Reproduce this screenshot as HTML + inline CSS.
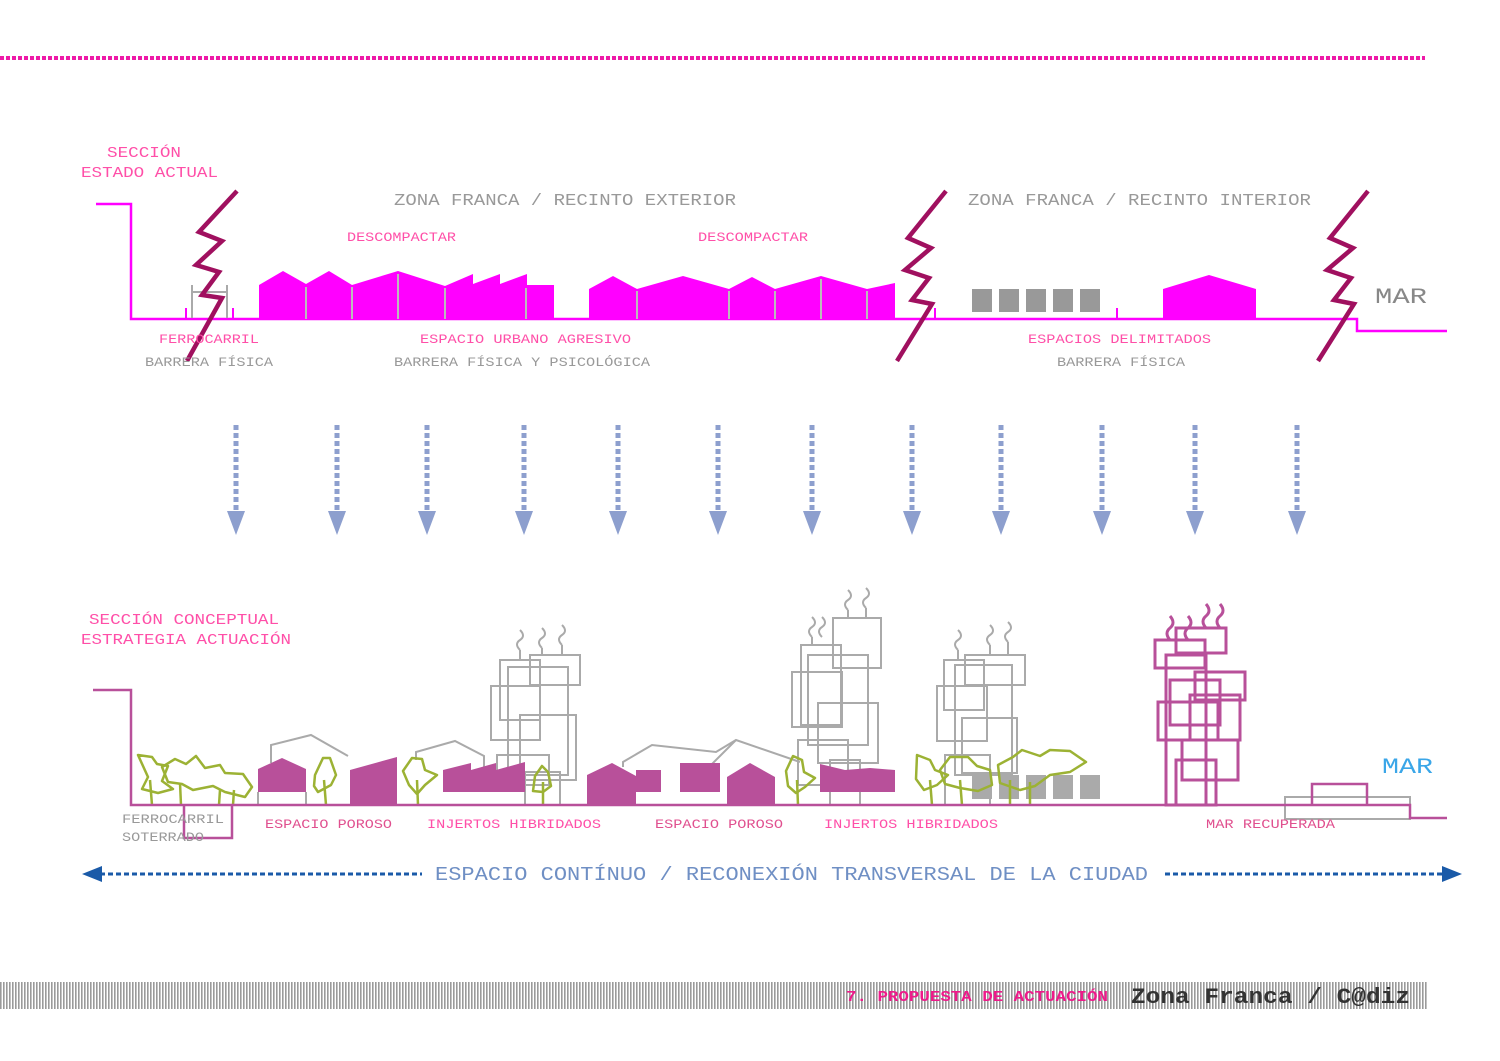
<!DOCTYPE html>
<html><head><meta charset="utf-8"><style>
html,body{margin:0;padding:0;background:#fff}
svg{display:block}
text{font-family:"Liberation Mono","DejaVu Sans Mono",monospace}
</style></head><body>
<svg width="1500" height="1061" viewBox="0 0 1500 1061" xmlns="http://www.w3.org/2000/svg">
<defs>
<pattern id="str" width="3" height="10" patternUnits="userSpaceOnUse"><rect width="3" height="10" fill="#fff"/><rect width="1.6" height="10" fill="#9a9a9a"/></pattern>
</defs>
<line x1="0" y1="58" x2="1425" y2="58" stroke="#ee1aa8" stroke-width="4" stroke-dasharray="4 2"/>

<text x="107" y="157" font-size="15" fill="#ff4fa8" textLength="74" lengthAdjust="spacingAndGlyphs">SECCIÓN</text>
<text x="81" y="177" font-size="15" fill="#ff4fa8" textLength="137" lengthAdjust="spacingAndGlyphs">ESTADO ACTUAL</text>
<text x="394" y="205" font-size="17" fill="#999" textLength="342" lengthAdjust="spacingAndGlyphs">ZONA FRANCA / RECINTO EXTERIOR</text>
<text x="968" y="205" font-size="17" fill="#999" textLength="343" lengthAdjust="spacingAndGlyphs">ZONA FRANCA / RECINTO INTERIOR</text>
<text x="347" y="241" font-size="13" fill="#ff4fa8" textLength="109" lengthAdjust="spacingAndGlyphs">DESCOMPACTAR</text>
<text x="698" y="241" font-size="13" fill="#ff4fa8" textLength="110" lengthAdjust="spacingAndGlyphs">DESCOMPACTAR</text>
<text x="1375" y="303" font-size="22" fill="#888" textLength="52" lengthAdjust="spacingAndGlyphs">MAR</text>

<polyline points="96,204 131,204 131,319 1357,319 1357,331 1447,331" fill="none" stroke="#ff00ff" stroke-width="2.5"/>
<g stroke="#aaa" stroke-width="2" fill="none"><line x1="192" y1="285" x2="192" y2="318"/><line x1="227" y1="285" x2="227" y2="318"/><line x1="192" y1="292" x2="227" y2="292"/></g>
<g stroke="#ff00ff" stroke-width="2"><line x1="186" y1="308" x2="186" y2="319"/><line x1="233" y1="308" x2="233" y2="319"/><line x1="935" y1="308" x2="935" y2="319"/><line x1="1117" y1="308" x2="1117" y2="319"/></g>
<polygon fill="#ff00ff" points="259,319 259,285 283,271 306,284 329,271 352,285 398,271 445,286 473,274 473,284 500,274 500,284 527,274 527,285 554,285 554,319"/>
<g stroke="#bbb" stroke-width="2"><line x1="306" y1="287" x2="306" y2="319"/><line x1="352" y1="287" x2="352" y2="319"/><line x1="398" y1="274" x2="398" y2="319"/><line x1="445" y1="288" x2="445" y2="319"/><line x1="526" y1="288" x2="526" y2="319"/></g>
<polygon fill="#ff00ff" points="589,319 589,289 613,276 637,289 683,276 729,289 752,277 775,289 821,276 867,289 895,283 895,319"/>
<g stroke="#bbb" stroke-width="2"><line x1="637" y1="291" x2="637" y2="319"/><line x1="729" y1="291" x2="729" y2="319"/><line x1="775" y1="291" x2="775" y2="319"/><line x1="821" y1="279" x2="821" y2="319"/><line x1="867" y1="291" x2="867" y2="319"/></g>
<g fill="#999"><rect x="972" y="289" width="20" height="23"/><rect x="999" y="289" width="20" height="23"/><rect x="1026" y="289" width="20" height="23"/><rect x="1053" y="289" width="20" height="23"/><rect x="1080" y="289" width="20" height="23"/></g>
<polygon fill="#ff00ff" points="1163,319 1163,289 1209,275 1256,289 1256,319"/>
<g fill="none" stroke="#a0105f" stroke-width="4.5" stroke-linejoin="miter">
<polyline points="237,191 199,232 222,241 196,265 219,272 202,295 222,298 187,361"/>
<polyline points="946,191 908,238 931,248 905,270 929,278 912,300 932,304 897,361"/>
<polyline points="1368,191 1330,238 1353,248 1327,270 1351,278 1334,300 1354,304 1318,361"/>
</g>
<text x="159" y="343" font-size="13" fill="#ff4fa8" textLength="100" lengthAdjust="spacingAndGlyphs">FERROCARRIL</text>
<text x="145" y="366" font-size="13" fill="#999" textLength="128" lengthAdjust="spacingAndGlyphs">BARRERA FÍSICA</text>
<text x="420" y="343" font-size="13" fill="#ff4fa8" textLength="211" lengthAdjust="spacingAndGlyphs">ESPACIO URBANO AGRESIVO</text>
<text x="394" y="366" font-size="13" fill="#999" textLength="256" lengthAdjust="spacingAndGlyphs">BARRERA FÍSICA Y PSICOLÓGICA</text>
<text x="1028" y="343" font-size="13" fill="#ff4fa8" textLength="183" lengthAdjust="spacingAndGlyphs">ESPACIOS DELIMITADOS</text>
<text x="1057" y="366" font-size="13" fill="#999" textLength="128" lengthAdjust="spacingAndGlyphs">BARRERA FÍSICA</text>

<g stroke="#8d9fce" stroke-width="5" stroke-dasharray="5 3" fill="none">
<line x1="236" y1="425" x2="236" y2="512"/><line x1="337" y1="425" x2="337" y2="512"/><line x1="427" y1="425" x2="427" y2="512"/><line x1="524" y1="425" x2="524" y2="512"/><line x1="618" y1="425" x2="618" y2="512"/><line x1="718" y1="425" x2="718" y2="512"/><line x1="812" y1="425" x2="812" y2="512"/><line x1="912" y1="425" x2="912" y2="512"/><line x1="1001" y1="425" x2="1001" y2="512"/><line x1="1102" y1="425" x2="1102" y2="512"/><line x1="1195" y1="425" x2="1195" y2="512"/><line x1="1297" y1="425" x2="1297" y2="512"/>
</g>
<g fill="#8d9fce">
<polygon points="227,511 245,511 236,535"/><polygon points="328,511 346,511 337,535"/><polygon points="418,511 436,511 427,535"/><polygon points="515,511 533,511 524,535"/><polygon points="609,511 627,511 618,535"/><polygon points="709,511 727,511 718,535"/><polygon points="803,511 821,511 812,535"/><polygon points="903,511 921,511 912,535"/><polygon points="992,511 1010,511 1001,535"/><polygon points="1093,511 1111,511 1102,535"/><polygon points="1186,511 1204,511 1195,535"/><polygon points="1288,511 1306,511 1297,535"/>
</g>

<text x="89" y="624" font-size="15" fill="#ff4fa8" textLength="190" lengthAdjust="spacingAndGlyphs">SECCIÓN CONCEPTUAL</text>
<text x="81" y="644" font-size="15" fill="#ff4fa8" textLength="210" lengthAdjust="spacingAndGlyphs">ESTRATEGIA ACTUACIÓN</text>
<text x="1382" y="773" font-size="22" fill="#3aa6e8" textLength="51" lengthAdjust="spacingAndGlyphs">MAR</text>

<g fill="none" stroke="#aaa" stroke-width="2">
<polyline points="258,805 258,792"/><polyline points="306,792 306,805"/>
<polyline points="271,763 271,745 311,735 348,756"/>
<polyline points="416,760 416,752 455,741 484,756 484,768"/>
<polyline points="623,767 623,762 652,745 716,752 736,740 800,762"/>
<polyline points="711,765 736,740"/>
<rect x="500" y="660" width="40" height="60"/><rect x="530" y="655" width="50" height="30"/><rect x="508" y="667" width="60" height="108"/><rect x="491" y="686" width="49" height="54"/><rect x="520" y="715" width="56" height="65"/><rect x="497" y="755" width="52" height="30"/><rect x="525" y="772" width="35" height="33"/>
<line x1="520" y1="650" x2="520" y2="660"/><line x1="542" y1="648" x2="542" y2="655"/><line x1="562" y1="645" x2="562" y2="655"/>
<rect x="833" y="618" width="48" height="50"/><rect x="801" y="645" width="40" height="80"/><rect x="808" y="655" width="60" height="90"/><rect x="792" y="672" width="50" height="55"/><rect x="818" y="703" width="60" height="60"/><rect x="798" y="740" width="50" height="45"/><rect x="830" y="760" width="30" height="45"/>
<line x1="812" y1="637" x2="812" y2="645"/><line x1="848" y1="610" x2="848" y2="618"/><line x1="866" y1="608" x2="866" y2="618"/>
<rect x="944" y="660" width="40" height="50"/><rect x="965" y="655" width="60" height="30"/><rect x="955" y="665" width="57" height="110"/><rect x="937" y="686" width="50" height="55"/><rect x="962" y="718" width="55" height="55"/><rect x="945" y="755" width="45" height="50"/>
<line x1="958" y1="650" x2="958" y2="660"/><line x1="990" y1="645" x2="990" y2="655"/><line x1="1008" y1="642" x2="1008" y2="655"/>
<rect x="1285" y="797" width="125" height="22"/>
</g>
<g fill="none" stroke="#aaa" stroke-width="2">
<path d="M520,650 q-6,-6 0,-10 q6,-4 0,-10"/><path d="M542,648 q-6,-6 0,-10 q6,-4 0,-10"/><path d="M562,645 q-6,-6 0,-10 q6,-4 0,-10"/>
<path d="M812,637 q-6,-6 0,-10 q6,-4 0,-10"/><path d="M822,637 q-6,-6 0,-10 q6,-4 0,-10"/><path d="M848,610 q-6,-6 0,-10 q6,-4 0,-10"/><path d="M866,608 q-6,-6 0,-10 q6,-4 0,-10"/>
<path d="M958,650 q-6,-6 0,-10 q6,-4 0,-10"/><path d="M990,645 q-6,-6 0,-10 q6,-4 0,-10"/><path d="M1008,642 q-6,-6 0,-10 q6,-4 0,-10"/>
</g>
<g fill="#aaa"><rect x="972" y="775" width="20" height="24"/><rect x="999" y="775" width="20" height="24"/><rect x="1026" y="775" width="20" height="24"/><rect x="1053" y="775" width="20" height="24"/><rect x="1080" y="775" width="20" height="24"/></g>

<g fill="#b8509a">
<polygon points="258,792 258,769 282,758 306,769 306,792"/>
<polygon points="350,805 350,770 397,757 397,805"/>
<polygon points="443,792 443,770 471,763 471,770 496,763 496,770 525,762 525,792"/>
<polygon points="587,805 587,775 612,763 636,776 636,805"/>
<rect x="636" y="770" width="25" height="22"/>
<rect x="680" y="763" width="40" height="29"/>
<polygon points="727,805 727,777 750,763 775,777 775,805"/>
<polygon points="820,792 820,764 845,770 870,768 895,770 895,792"/>
</g>
<g fill="none" stroke="#b8509a" stroke-width="3">
<rect x="1155" y="640" width="50" height="28"/><rect x="1176" y="628" width="50" height="25"/><rect x="1166" y="655" width="40" height="150"/><rect x="1195" y="672" width="50" height="28"/><rect x="1170" y="680" width="50" height="45"/><rect x="1158" y="702" width="60" height="38"/><rect x="1190" y="695" width="50" height="45"/><rect x="1182" y="740" width="56" height="40"/><rect x="1176" y="760" width="40" height="45"/>
<path d="M1170,640 q-6,-7 0,-12 q6,-5 0,-12"/><path d="M1188,640 q-6,-7 0,-12 q6,-5 0,-12"/><path d="M1206,628 q-6,-7 0,-12 q6,-5 0,-12"/><path d="M1220,628 q-6,-7 0,-12 q6,-5 0,-12"/>
</g>
<g fill="none" stroke="#9cb234" stroke-width="2.5" stroke-linejoin="round">
<polygon points="138,755 152,757 157,764 168,766 162,781 173,789 158,793 142,789 148,777"/>
<polygon points="162,767 175,759 186,764 196,756 205,768 220,765 225,773 243,774 252,787 245,797 225,792 213,786 193,790 182,784 168,782"/>
<line x1="150" y1="780" x2="152" y2="805"/><line x1="180" y1="783" x2="181" y2="805"/><line x1="220" y1="790" x2="219" y2="805"/><line x1="234" y1="790" x2="233" y2="805"/>
<polygon points="315,775 323,758 330,758 336,775 331,785 318,792 314,786"/><line x1="324" y1="780" x2="326" y2="805"/>
<polygon points="403,771 412,758 422,759 425,770 437,775 425,785 417,794 409,785"/><line x1="417" y1="780" x2="418" y2="805"/>
<polygon points="535,776 542,766 548,772 551,786 543,792 533,791"/><line x1="543" y1="782" x2="543" y2="805"/>
<polygon points="786,771 793,756 802,760 804,772 815,778 805,787 796,793 788,786"/><line x1="797" y1="780" x2="798" y2="805"/>
<polygon points="917,755 930,760 935,770 948,775 937,785 924,790 916,779"/><line x1="930" y1="780" x2="932" y2="805"/>
<polygon points="940,770 950,757 968,757 977,766 990,770 992,785 978,791 960,788 945,784"/>
<polygon points="998,765 1013,757 1022,750 1040,756 1050,750 1070,751 1086,762 1070,772 1050,775 1035,786 1020,790 1000,783"/>
<line x1="960" y1="780" x2="962" y2="805"/><line x1="1010" y1="780" x2="1010" y2="805"/><line x1="1030" y1="782" x2="1030" y2="805"/>
</g>
<polyline points="93,690 131,690 131,805 1410,805 1410,818 1447,818" fill="none" stroke="#b8509a" stroke-width="2.5"/>
<polyline points="184,805 184,838 232,838 232,805" fill="none" stroke="#b8509a" stroke-width="2.5"/>
<polyline points="1312,805 1312,784 1367,784 1367,805" fill="none" stroke="#b8509a" stroke-width="2.5"/>
<text x="122" y="823" font-size="13" fill="#999" textLength="102" lengthAdjust="spacingAndGlyphs">FERROCARRIL</text>
<text x="122" y="841" font-size="13" fill="#999" textLength="82" lengthAdjust="spacingAndGlyphs">SOTERRADO</text>
<text x="265" y="828" font-size="13" fill="#e0508f" textLength="127" lengthAdjust="spacingAndGlyphs">ESPACIO POROSO</text>
<text x="427" y="828" font-size="13" fill="#ff4fa8" textLength="174" lengthAdjust="spacingAndGlyphs">INJERTOS HIBRIDADOS</text>
<text x="655" y="828" font-size="13" fill="#e0508f" textLength="128" lengthAdjust="spacingAndGlyphs">ESPACIO POROSO</text>
<text x="824" y="828" font-size="13" fill="#ff4fa8" textLength="174" lengthAdjust="spacingAndGlyphs">INJERTOS HIBRIDADOS</text>
<text x="1206" y="828" font-size="13" fill="#e0508f" textLength="129" lengthAdjust="spacingAndGlyphs">MAR RECUPERADA</text>

<g stroke="#1a5aa8" stroke-width="3" stroke-dasharray="5 3"><line x1="100" y1="874" x2="422" y2="874"/><line x1="1165" y1="874" x2="1442" y2="874"/></g>
<polygon points="82,874 102,866 102,882" fill="#1a5aa8"/><polygon points="1462,874 1442,866 1442,882" fill="#1a5aa8"/>
<text x="435" y="880" font-size="19" fill="#6f8fc4" textLength="713" lengthAdjust="spacingAndGlyphs">ESPACIO CONTÍNUO / RECONEXIÓN TRANSVERSAL DE LA CIUDAD</text>

<rect x="0" y="982" width="1427" height="27" fill="url(#str)"/>
<text x="846" y="1001" font-size="15" fill="#ee1a8a" font-family="Liberation Serif" font-weight="bold" textLength="262" lengthAdjust="spacingAndGlyphs">7. PROPUESTA DE ACTUACIÓN</text>
<text x="1131" y="1003" font-size="22" fill="#333" font-weight="bold" textLength="279" lengthAdjust="spacingAndGlyphs">Zona Franca / C@diz</text>
</svg>
</body></html>
